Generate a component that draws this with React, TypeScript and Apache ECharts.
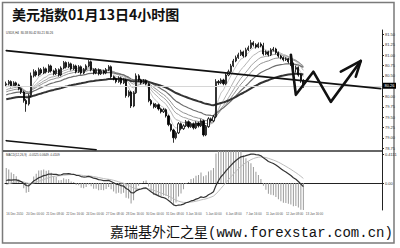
import React, { useEffect, useRef } from "react";
import * as echarts from "echarts";

// USDX H4 candles, 16 Dec 2010 08:00 onward
const opens = [
  80.28, 80.31, 80.36, 80.26, 80.33, 80.28, 80.19, 80.11, 79.90, 79.82,
  80.02, 80.50, 80.60, 80.52, 80.65, 80.57, 80.67, 80.60, 80.74, 80.62,
  80.55, 80.65, 80.52, 80.69, 80.82, 80.72, 80.79, 80.67, 80.74, 80.60,
  80.72, 80.57, 80.65, 80.74, 80.84, 80.65, 80.57, 80.65, 80.55, 80.62,
  80.57, 80.65, 80.72, 80.48, 80.43, 80.36, 80.45, 80.33, 80.40, 80.02,
  80.11, 79.77, 80.09, 80.50, 80.40, 80.33, 80.38, 80.31, 79.90, 79.82,
  79.75, 79.80, 79.70, 79.63, 79.68, 79.53, 79.32, 79.19, 79.00, 79.12,
  79.34, 79.22, 79.29, 79.39, 79.27, 79.34, 79.24, 79.36, 79.29, 79.41,
  79.07, 79.27, 79.46, 79.41, 79.51, 80.36, 80.33, 80.40, 80.31, 80.52,
  80.60, 80.74, 80.86, 80.94, 81.01, 81.08, 80.98, 81.13, 81.18, 81.30,
  81.25, 81.20, 81.27, 81.23, 81.03, 81.08, 81.01, 81.13, 81.15, 81.06,
  80.98, 80.94, 80.89, 80.91, 80.84, 80.78, 80.66, 80.70, 80.52, 80.38,
];
const closes = [
  80.31, 80.36, 80.26, 80.33, 80.28, 80.19, 80.11, 79.90, 79.82, 80.02,
  80.50, 80.60, 80.52, 80.65, 80.57, 80.67, 80.60, 80.74, 80.62, 80.55,
  80.65, 80.52, 80.69, 80.82, 80.72, 80.79, 80.67, 80.74, 80.60, 80.72,
  80.57, 80.65, 80.74, 80.84, 80.65, 80.57, 80.65, 80.55, 80.62, 80.57,
  80.65, 80.72, 80.48, 80.43, 80.36, 80.45, 80.33, 80.40, 80.02, 80.11,
  79.77, 80.09, 80.50, 80.40, 80.33, 80.38, 80.31, 79.90, 79.82, 79.75,
  79.80, 79.70, 79.63, 79.68, 79.53, 79.32, 79.19, 79.00, 79.12, 79.34,
  79.22, 79.29, 79.39, 79.27, 79.34, 79.24, 79.36, 79.29, 79.41, 79.07,
  79.27, 79.46, 79.41, 79.51, 80.36, 80.33, 80.40, 80.31, 80.52, 80.60,
  80.74, 80.86, 80.94, 81.01, 81.08, 80.98, 81.13, 81.18, 81.30, 81.25,
  81.20, 81.27, 81.23, 81.03, 81.08, 81.01, 81.13, 81.15, 81.06, 80.98,
  80.94, 80.89, 80.91, 80.84, 80.78, 80.66, 80.70, 80.52, 80.38, 80.26,
];
const lows = [
  80.24, 80.27, 80.22, 80.23, 80.24, 80.15, 80.06, 79.85, 79.63, 79.78,
  79.98, 80.46, 80.48, 80.49, 80.53, 80.54, 80.56, 80.57, 80.58, 80.51,
  80.52, 80.48, 80.49, 80.66, 80.68, 80.69, 80.63, 80.64, 80.56, 80.57,
  80.53, 80.54, 80.62, 80.71, 80.61, 80.53, 80.54, 80.51, 80.52, 80.53,
  80.54, 80.62, 80.44, 80.39, 80.32, 80.33, 80.29, 80.30, 79.97, 79.98,
  79.72, 79.74, 80.06, 80.36, 80.29, 80.30, 80.27, 79.86, 79.78, 79.71,
  79.72, 79.66, 79.59, 79.60, 79.49, 79.28, 79.15, 78.88, 78.96, 79.09,
  79.18, 79.19, 79.26, 79.23, 79.24, 79.20, 79.21, 79.25, 79.26, 79.03,
  79.04, 79.24, 79.37, 79.38, 79.48, 80.28, 80.30, 80.27, 80.28, 80.49,
  80.57, 80.71, 80.83, 80.91, 80.98, 80.94, 80.95, 81.10, 81.15, 81.21,
  81.16, 81.17, 81.19, 80.99, 81.00, 80.97, 80.98, 81.09, 81.02, 80.94,
  80.90, 80.85, 80.86, 80.80, 80.74, 80.62, 80.58, 80.48, 80.33, 80.21,
];
const highs = [
  80.36, 80.40, 80.39, 80.37, 80.36, 80.31, 80.22, 80.14, 79.94, 80.06,
  80.58, 80.66, 80.64, 80.70, 80.69, 80.72, 80.70, 80.78, 80.77, 80.65,
  80.69, 80.68, 80.73, 80.86, 80.85, 80.84, 80.82, 80.78, 80.77, 80.76,
  80.75, 80.69, 80.78, 80.88, 80.87, 80.68, 80.69, 80.68, 80.66, 80.65,
  80.69, 80.76, 80.75, 80.51, 80.46, 80.49, 80.48, 80.44, 80.43, 80.15,
  80.14, 80.13, 80.56, 80.54, 80.43, 80.42, 80.41, 80.34, 79.94, 79.85,
  79.84, 79.83, 79.73, 79.72, 79.71, 79.56, 79.35, 79.22, 79.16, 79.38,
  79.37, 79.33, 79.43, 79.42, 79.38, 79.37, 79.40, 79.39, 79.45, 79.44,
  79.31, 79.50, 79.49, 79.55, 80.42, 80.40, 80.44, 80.43, 80.56, 80.65,
  80.79, 80.91, 80.99, 81.06, 81.13, 81.11, 81.18, 81.23, 81.37, 81.34,
  81.29, 81.31, 81.31, 81.30, 81.12, 81.11, 81.17, 81.20, 81.18, 81.09,
  81.01, 80.97, 80.95, 80.94, 80.90, 80.82, 80.75, 80.73, 80.55, 80.42,
];

// time axis: one label every 8 H4 bars
const tickLabels = [
  "16 Dec 2010", "20 Dec 00:00", "21 Dec 08:00", "22 Dec 16:00", "24 Dec 00:00",
  "27 Dec 08:00", "28 Dec 16:00", "30 Dec 00:00", "31 Dec 08:00", "3 Jan 16:00",
  "5 Jan 00:00", "6 Jan 08:00", "7 Jan 16:00", "11 Jan 00:00", "12 Jan 08:00",
  "13 Jan 16:00",
];
const barsPerLabel = 8;
const slotCount = 151;

const priceTicks = [78.75, 79.0, 79.25, 79.5, 79.75, 80.0, 80.25, 80.5, 80.75, 81.0, 81.25, 81.5];
const bidPrice = 80.26;

// moving-average ribbon (EMA) and the starting value carried in from earlier bars
const maPeriods = [5, 10, 15, 20, 30, 60];
const maSeeds = [80.26, 80.21, 80.14, 80.09, 80.02, 79.92];
const maColors = ["#c4c4c4", "#b4b4b4", "#a4a4a4", "#939393", "#6e6e6e", "#333333"];
const maWidths = [1, 1, 1, 1, 1.2, 2];

// MACD(12,26,9): fast EMA, slow EMA, signal periods and carried-in values
const macdPeriods = [12, 26, 9];
const macdSeeds = [80.21, 80.18, -0.04];
const histGain = 3.5;

// drawn objects: channel lines and the forecast zigzag arrow ([bar index, price])
const upperTrend = [[0, 81.11], [150, 80.19]];
const lowerTrend = [[0, 78.93], [36, 78.71]];
const forecastPath = [[114, 81.01], [116, 80.04], [123, 80.6], [130, 79.87], [142, 80.86]];
const arrowHead = [[134, 80.6], [142, 80.86], [140, 80.48]];

function ema(values: number[], period: number, seed: number): number[] {
  const a = 2 / (period + 1);
  let e = seed;
  return values.map((v) => (e = e + a * (v - e)));
}

function buildOption() {
  const slots = Array.from({ length: slotCount }, (_, i) => String(i));
  const candles = opens.map((o, i) => [o, closes[i], lows[i], highs[i]]);

  const fast = ema(closes, macdPeriods[0], macdSeeds[0]);
  const slow = ema(closes, macdPeriods[1], macdSeeds[1]);
  const dif = fast.map((f, i) => f - slow[i]);
  const dea = ema(dif, macdPeriods[2], macdSeeds[2]);
  const hist = dif.map((d, i) => histGain * (d - dea[i]));

  const peak = Math.max(...dif);
  const macdMax = (peak * 32) / 29;
  const macdMin = (-macdMax * 27) / 32;
  const macdTicks = [+peak.toFixed(4), 0, +macdMin.toFixed(4)];

  const last = closes.length - 1;
  const f2 = (v: number) => v.toFixed(2);
  const f4 = (v: number) => v.toFixed(4);
  const tiny = "'Liberation Sans', Arial, sans-serif";

  const maSeries = maPeriods.map((p, k) => ({
    type: "line",
    xAxisIndex: 0,
    yAxisIndex: 0,
    data: ema(closes, p, maSeeds[k]).map((v) => +v.toFixed(4)),
    symbol: "none",
    lineStyle: { color: maColors[k], width: maWidths[k] },
    z: 3,
    silent: true,
  }));

  const drawn = (data: number[][], width: number) => ({
    type: "line",
    xAxisIndex: 0,
    yAxisIndex: 0,
    data,
    symbol: "none",
    clip: false,
    lineStyle: { color: "#111", width, join: "round", cap: "round" },
    z: 6,
    silent: true,
  });

  return {
    animation: false,
    backgroundColor: "#fff",
    grid: [
      { left: 5, right: 18, top: 30, height: 121 },
      { left: 5, right: 18, top: 151, height: 59 },
    ],
    xAxis: [
      {
        type: "category",
        gridIndex: 0,
        data: slots,
        axisLine: { show: false },
        axisTick: { show: false },
        axisLabel: { show: false },
        splitLine: { show: false },
      },
      {
        type: "category",
        gridIndex: 1,
        data: slots,
        axisLine: { show: true, lineStyle: { color: "#222", width: 1 } },
        axisTick: { show: false },
        splitLine: { show: false },
        axisLabel: {
          interval: (idx: number) => idx % barsPerLabel === 0,
          formatter: (_v: string, idx: number) => tickLabels[idx / barsPerLabel] ?? "",
          fontSize: 3,
          color: "#555",
          fontFamily: tiny,
          align: "left",
          margin: 2,
        },
      },
    ],
    yAxis: [
      {
        type: "value",
        gridIndex: 0,
        position: "right",
        min: 78.68,
        max: 81.61,
        splitLine: { show: false },
        axisLine: { show: true, lineStyle: { color: "#222", width: 1 } },
        axisTick: { show: true, length: 2, customValues: priceTicks, lineStyle: { color: "#222" } },
        axisLabel: {
          customValues: priceTicks,
          formatter: (v: number) => f2(v),
          fontSize: 4,
          color: "#333",
          fontFamily: tiny,
          margin: 3,
        },
      },
      {
        type: "value",
        gridIndex: 1,
        position: "right",
        min: macdMin,
        max: macdMax,
        splitLine: { show: false },
        axisLine: { show: true, lineStyle: { color: "#222", width: 1 } },
        axisTick: { show: true, length: 2, customValues: macdTicks, lineStyle: { color: "#222" } },
        axisLabel: {
          customValues: macdTicks,
          formatter: (v: number) => (v === 0 ? "0.00" : f4(v)),
          fontSize: 4,
          color: "#333",
          fontFamily: tiny,
          margin: 3,
        },
      },
    ],
    series: [
      {
        type: "candlestick",
        xAxisIndex: 0,
        yAxisIndex: 0,
        data: candles,
        barWidth: 1.6,
        itemStyle: { color: "#fff", color0: "#000", borderColor: "#000", borderColor0: "#000", borderWidth: 0.8 },
        z: 4,
        silent: true,
        markLine: {
          symbol: "none",
          silent: true,
          data: [{ yAxis: bidPrice }],
          lineStyle: { color: "#d6d6d6", width: 1, type: "solid" },
          label: {
            position: "end",
            formatter: f2(bidPrice),
            backgroundColor: "#000",
            color: "#fff",
            fontSize: 4,
            fontFamily: tiny,
            padding: [1, 1.5],
            distance: 1,
          },
        },
      },
      ...maSeries,
      drawn(upperTrend, 1.6),
      drawn(lowerTrend, 1.6),
      drawn(forecastPath, 2.6),
      drawn(arrowHead, 2.6),
      {
        type: "bar",
        xAxisIndex: 1,
        yAxisIndex: 1,
        data: hist.map((v) => +v.toFixed(4)),
        barWidth: 1,
        itemStyle: { color: "#9a9a9a" },
        silent: true,
      },
      {
        type: "line",
        xAxisIndex: 1,
        yAxisIndex: 1,
        data: dea.map((v) => +v.toFixed(4)),
        symbol: "none",
        lineStyle: { color: "#bdbdbd", width: 1 },
        silent: true,
      },
      {
        type: "line",
        xAxisIndex: 1,
        yAxisIndex: 1,
        data: dif.map((v) => +v.toFixed(4)),
        symbol: "none",
        lineStyle: { color: "#333", width: 1.2 },
        silent: true,
      },
    ],
    graphic: [
      {
        type: "rect",
        shape: { x: 2.5, y: 2.5, width: 391.5, height: 240.5 },
        style: { fill: "none", stroke: "#7a7a7a", lineWidth: 1.5 },
        silent: true,
      },
      {
        type: "line",
        shape: { x1: 3, y1: 151, x2: 382, y2: 151 },
        style: { stroke: "#333", lineWidth: 1.5 },
        silent: true,
      },
      {
        type: "text",
        left: 12,
        top: 7,
        style: {
          text: "美元指数01月13日4小时图",
          fontSize: 14,
          fontWeight: "bold",
          fontFamily: "'Noto Sans CJK SC', sans-serif",
          fill: "#111",
        },
      },
      {
        type: "text",
        left: 6,
        top: 31,
        style: {
          text: `USDX,H4  ${f2(opens[last])} ${f2(highs[last])} ${f2(lows[last])} ${f2(closes[last])}`,
          fontSize: 3,
          fontFamily: tiny,
          fill: "#333",
        },
      },
      {
        type: "text",
        left: 6,
        top: 153,
        style: {
          text: `MACD(12,26,9)  ${f4(dif[last])} ${f4(dea[last])} ${f4(hist[last])}`,
          fontSize: 3,
          fontFamily: tiny,
          fill: "#333",
        },
      },
      {
        type: "text",
        left: 110,
        top: 226,
        style: {
          text: "嘉瑞基外汇之星(www.forexstar.com.cn)",
          fontSize: 14,
          fontFamily: "'Liberation Mono', 'Noto Sans CJK SC', monospace",
          fill: "#111",
        },
      },
    ],
  };
}

export default function App() {
  const ref = useRef<HTMLDivElement>(null);
  useEffect(() => {
    if (!ref.current) return;
    const chart = echarts.init(ref.current, null, { renderer: "svg", width: 400, height: 248 });
    chart.setOption(buildOption() as any);
    return () => chart.dispose();
  }, []);
  return (
    <div
      ref={ref}
      style={{ position: "absolute", left: 0, top: 0, width: 400, height: 248, background: "#fff" }}
    />
  );
}
